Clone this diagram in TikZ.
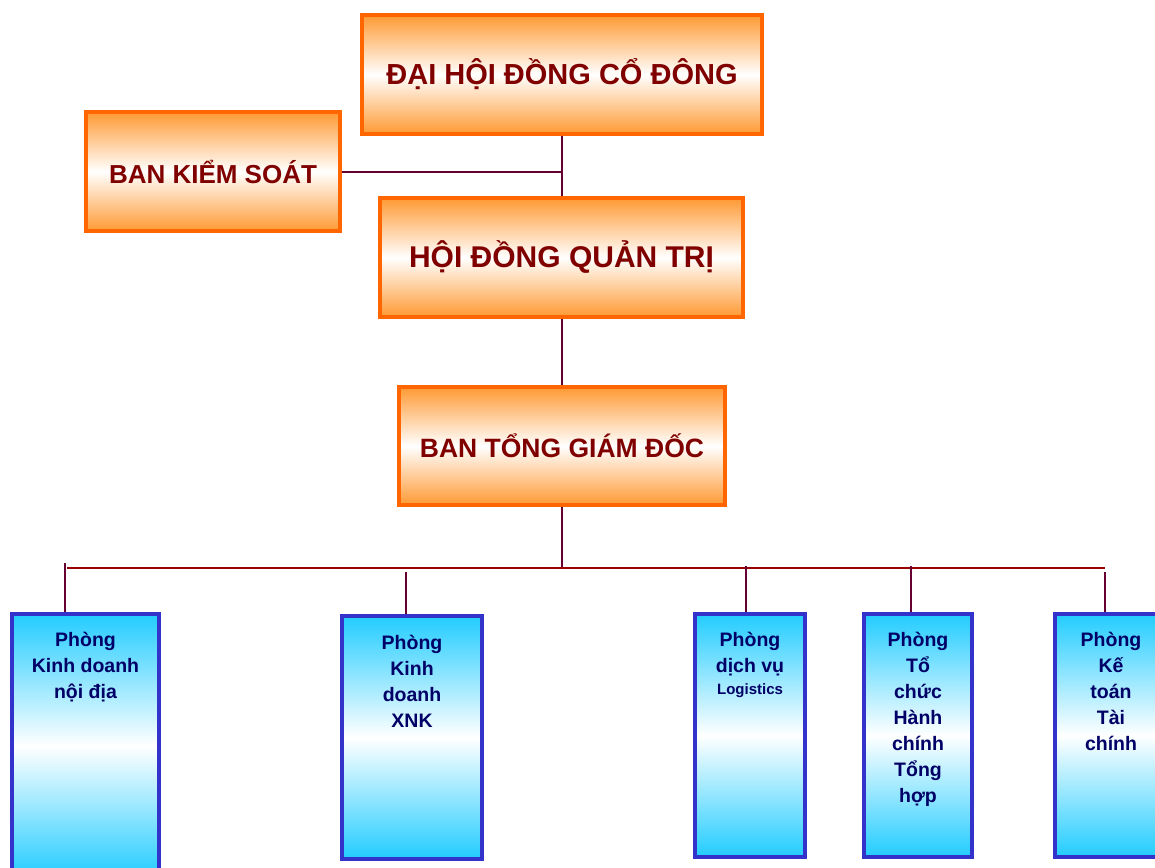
\documentclass[tikz,border=0pt]{standalone}
\usepackage{fontspec}
\setmainfont{Liberation Sans}
\definecolor{obord}{HTML}{FF6600}
\definecolor{ofill}{HTML}{FF9933}
\definecolor{otext}{HTML}{800000}
\definecolor{bbord}{HTML}{3333CC}
\definecolor{bfill}{HTML}{22CCFF}
\definecolor{btext}{HTML}{000066}
\definecolor{conn}{HTML}{660033}
\definecolor{busc}{HTML}{990000}
\tikzset{
  obox/.style={draw=obord, line width=4pt, inner sep=0pt, top color=ofill, bottom color=ofill, middle color=white, text=otext, font=\bfseries},
  bbox/.style={draw=bbord, line width=4pt, inner sep=0pt, top color=bfill, bottom color=bfill, middle color=white},
  btxt/.style={anchor=base, inner sep=0pt, text=btext},
  conline/.style={draw=conn, line width=2pt},
  busline/.style={draw=busc, line width=2.6pt}
}
\newcommand{\btext}[2]{\parbox[t]{#1pt}{\centering\fontsize{19.5}{26}\selectfont\bfseries #2}}
\begin{document}
\begin{tikzpicture}[x=1pt,y=-1pt]
\useasboundingbox (0,0) rectangle (1155,867);
\clip (0,0) rectangle (1155,867);
% orange boxes
\node[obox, minimum width=400pt, minimum height=119pt, font=\fontsize{29}{32}\selectfont\bfseries] (dhd) at (562,74.5) {ĐẠI HỘI ĐỒNG CỔ ĐÔNG};
\node[obox, minimum width=254pt, minimum height=119pt, font=\fontsize{26}{30}\selectfont\bfseries] (bks) at (213,171.5) {BAN KIỂM SOÁT};
\node[obox, minimum width=363pt, minimum height=119pt, font=\fontsize{30}{32}\selectfont\bfseries] (hdqt) at (561.5,257.5) {HỘI ĐỒNG QUẢN TRỊ};
\node[obox, minimum width=326pt, minimum height=118pt, font=\fontsize{26.5}{30}\selectfont\bfseries] (btgd) at (562,446) {BAN TỔNG GIÁM ĐỐC};
% blue boxes
\node[bbox, minimum width=147pt, minimum height=264pt] (p1) at (85.5,746) {};
\node[bbox, minimum width=140pt, minimum height=243pt] (p2) at (412,737.5) {};
\node[bbox, minimum width=110pt, minimum height=243pt] (p3) at (750,735.5) {};
\node[bbox, minimum width=108pt, minimum height=243pt] (p4) at (918,735.5) {};
\node[bbox, minimum width=112pt, minimum height=243pt] (p5) at (1111,735.5) {};
% blue box texts
\node[btxt] (t1) at ([yshift=-34pt]p1.north) {\btext{140}{Phòng\\Kinh doanh\\nội địa}};
\node[btxt] (t2) at ([yshift=-35pt]p2.north) {\btext{130}{Phòng\\Kinh\\doanh\\XNK}};
\node[btxt] (t3) at ([yshift=-34pt]p3.north) {\btext{106}{Phòng\\dịch vụ\\[-4pt]{\fontsize{15}{18}\selectfont Logistics}}};
\node[btxt] (t4) at ([yshift=-34pt]p4.north) {\btext{104}{Phòng\\Tổ\\chức\\Hành\\chính\\Tổng\\hợp}};
\node[btxt] (t5) at ([yshift=-34pt]p5.north) {\btext{104}{Phòng\\Kế\\toán\\Tài\\chính}};
% connectors top
\draw[conline] (dhd.south) -- (dhd.south |- hdqt.north);
\draw[conline] (bks.east) -- (bks.east -| dhd.south);
\draw[conline] (hdqt.south) -- (hdqt.south |- btgd.north);
\coordinate (busM) at (562,568);
\draw[conline] (btgd.south) -- (busM);
% bus
\coordinate (busL) at (67,568);
\coordinate (busR) at (1105,568);
\draw[busline] (busL) -- (busR);
% drops
\coordinate (d1) at (65,563);
\coordinate (d2) at (406,572);
\coordinate (d3) at (746,566);
\coordinate (d4) at (911,566);
\coordinate (d5) at (1105,572);
\draw[conline] (d1) -- (d1 |- p1.north);
\draw[conline] (d2) -- (d2 |- p2.north);
\draw[conline] (d3) -- (d3 |- p3.north);
\draw[conline] (d4) -- (d4 |- p4.north);
\draw[conline] (d5) -- (d5 |- p5.north);
\end{tikzpicture}
\end{document}
